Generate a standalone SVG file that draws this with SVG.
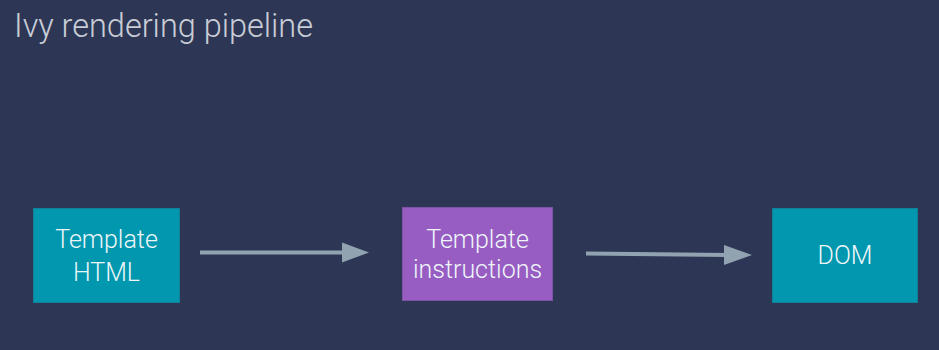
<svg xmlns="http://www.w3.org/2000/svg" width="939" height="350" viewBox="0 0 939 350">
  <defs>
    <style>
      .bg { fill: #2d3755; }
      .title { font-family: Roboto, "Liberation Sans", sans-serif; font-weight: 300; font-size: 32.5px; fill: #c9cdd6; }
      .teal { fill: #0097af; stroke: #13809a; stroke-width: 1; }
      .purple { fill: #985dc3; stroke: #7e52a6; stroke-width: 1; }
      .label { font-family: Roboto, "Liberation Sans", sans-serif; font-weight: 300; font-size: 25px; fill: #eef6f9; text-anchor: middle; }
      .conn { stroke: #91a3b0; stroke-width: 4; fill: none; }
      .head { fill: #91a3b0; }
    </style>
  </defs>
  <rect class="bg" x="0" y="0" width="939" height="350"/>
  <text class="title" x="14" y="37" textLength="299" lengthAdjust="spacing">Ivy rendering pipeline</text>

  <g id="connectors">
    <g id="edge-html-instructions">
      <line class="conn" x1="200" y1="252.5" x2="345" y2="252.5"/>
      <polygon class="head" points="342,242.5 369,252.5 342,262.5"/>
    </g>
    <g id="edge-instructions-dom">
      <line class="conn" x1="586" y1="253.5" x2="727" y2="255"/>
      <polygon class="head" points="724,245 752,255 724,265"/>
    </g>
  </g>

  <g id="node-template-html">
    <rect class="teal" x="33.5" y="208.5" width="146" height="94"/>
    <text class="label" x="106.5" y="248">Template</text>
    <text class="label" x="106.5" y="281">HTML</text>
  </g>

  <g id="node-template-instructions">
    <rect class="purple" x="402.5" y="207.5" width="150" height="93"/>
    <text class="label" x="477.5" y="247.5">Template</text>
    <text class="label" x="477.5" y="277.5">instructions</text>
  </g>

  <g id="node-dom">
    <rect class="teal" x="772.5" y="208.5" width="145" height="94"/>
    <text class="label" x="845" y="264">DOM</text>
  </g>
</svg>
